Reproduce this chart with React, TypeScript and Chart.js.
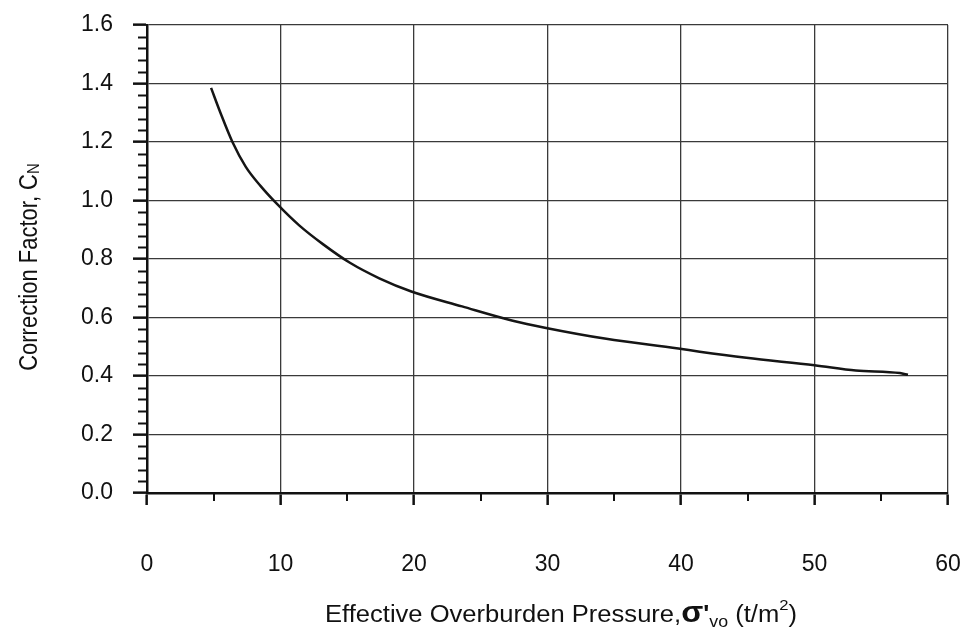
import React, { useEffect, useRef } from "react";
import { Chart, registerables } from "chart.js";

Chart.register(...registerables);

// Effective overburden pressure (t/m2)
const pressure = [4.8, 5.5, 6.4, 7.4, 8.5, 9.7, 11.4, 13.2, 15.2, 17.4, 19.8, 23.6, 27.4, 29.8, 34.4, 39.8, 41.4, 44.9, 50.0, 53.1, 56.4, 57.0];
// Correction factor C_N
const correctionFactor = [1.385, 1.3, 1.2, 1.115, 1.05, 0.99, 0.915, 0.85, 0.787, 0.734, 0.689, 0.638, 0.589, 0.565, 0.527, 0.494, 0.483, 0.462, 0.437, 0.419, 0.41, 0.404];

const xTickValues = [0, 10, 20, 30, 40, 50, 60];
const xMinorTicks = [5, 15, 25, 35, 45, 55];
const yTickValues = [0, 0.2, 0.4, 0.6, 0.8, 1.0, 1.2, 1.4, 1.6];
const yMinorStep = 0.04;

const FONT = '"Liberation Sans", Arial, Helvetica, sans-serif';

type Seg = { text: string; font: string; dy: number };

function drawSegs(
  ctx: CanvasRenderingContext2D,
  segs: Seg[],
  cx: number,
  baseY: number,
  targetWidth: number | null,
  yStretch: number
) {
  let total = 0;
  const widths: number[] = [];
  for (const s of segs) {
    ctx.font = s.font;
    const w = ctx.measureText(s.text).width;
    widths.push(w);
    total += w;
  }
  const sx = targetWidth ? targetWidth / total : 1;
  ctx.save();
  ctx.translate(cx, baseY);
  ctx.scale(sx, yStretch);
  let x = -total / 2;
  ctx.textAlign = "left";
  ctx.textBaseline = "alphabetic";
  segs.forEach((s, i) => {
    ctx.font = s.font;
    ctx.fillText(s.text, x, s.dy);
    x += widths[i];
  });
  ctx.restore();
}

const decorPlugin = {
  id: "decor",
  afterDraw(chart: any) {
    const ctx: CanvasRenderingContext2D = chart.ctx;
    const xs = chart.scales.x;
    const ys = chart.scales.y;
    const area = chart.chartArea;
    ctx.save();
    ctx.strokeStyle = "#111";
    ctx.lineWidth = 2;
    // x minor ticks
    for (const v of xMinorTicks) {
      const px = Math.round(xs.getPixelForValue(v));
      ctx.beginPath();
      ctx.moveTo(px, area.bottom);
      ctx.lineTo(px, area.bottom + 8);
      ctx.stroke();
    }
    // y minor ticks
    const n = Math.round(1.6 / yMinorStep);
    for (let i = 0; i <= n; i++) {
      if (i % 5 === 0) continue;
      const py = Math.round(ys.getPixelForValue(i * yMinorStep)) + 0.5;
      ctx.beginPath();
      ctx.moveTo(area.left - 9, py);
      ctx.lineTo(area.left, py);
      ctx.stroke();
    }
    ctx.fillStyle = "#111";
    // x title
    drawSegs(
      ctx,
      [
        { text: "Effective Overburden Pressure,", font: `23px ${FONT}`, dy: 0 },
        { text: "σ", font: `bold 29px ${FONT}`, dy: 0 },
        { text: "'", font: `bold 23px ${FONT}`, dy: 0 },
        { text: "vo", font: `16px ${FONT}`, dy: 5 },
        { text: " (t/m", font: `23px ${FONT}`, dy: 0 },
        { text: "2", font: `15px ${FONT}`, dy: -12 },
        { text: ")", font: `23px ${FONT}`, dy: 0 },
      ],
      561,
      622,
      472,
      1
    );
    // y title
    ctx.translate(37, 267);
    ctx.rotate(-Math.PI / 2);
    drawSegs(
      ctx,
      [
        { text: "Correction Factor, C", font: `22px ${FONT}`, dy: 0 },
        { text: "N", font: `15px ${FONT}`, dy: 2 },
      ],
      0,
      0,
      null,
      1.15
    );
    ctx.restore();
  },
};

export default function App() {
  const ref = useRef<HTMLCanvasElement | null>(null);
  useEffect(() => {
    document.body.style.margin = "0";
    const canvas = ref.current;
    if (!canvas) return;
    const chart = new Chart(canvas, {
      type: "scatter",
      data: {
        datasets: [
          {
            data: pressure.map((p, i) => ({ x: p, y: correctionFactor[i] })),
            showLine: true,
            borderColor: "#151515",
            borderWidth: 2.5,
            pointRadius: 0,
            cubicInterpolationMode: "monotone",
            fill: false,
          },
        ],
      },
      options: {
        responsive: false,
        animation: false,
        devicePixelRatio: 1,
        layout: { padding: { top: 25, right: 18, left: 0, bottom: 0 } },
        plugins: { legend: { display: false }, tooltip: { enabled: false } },
        scales: {
          x: {
            type: "linear",
            min: 0,
            max: 60,
            afterBuildTicks: (s: any) => {
              s.ticks = xTickValues.map((v) => ({ value: v }));
            },
            afterFit: (s: any) => {
              s.height = 142;
              s.paddingLeft = 0;
              s.paddingRight = 0;
            },
            ticks: {
              font: { family: FONT, size: 23 },
              color: "#111",
              padding: 46,
              maxRotation: 0,
              callback: (v: any) => String(v),
            },
            grid: {
              color: "#3a3a3a",
              lineWidth: 1.3,
              tickLength: 12,
              tickColor: "#111",
              tickWidth: 2.5,
            },
            border: { color: "#111", width: 2.5 },
          },
          y: {
            type: "linear",
            min: 0,
            max: 1.6,
            afterBuildTicks: (s: any) => {
              s.ticks = yTickValues.map((v) => ({ value: v }));
            },
            afterFit: (s: any) => {
              s.width = 147;
              s.paddingTop = 0;
              s.paddingBottom = 0;
            },
            ticks: {
              font: { family: FONT, size: 23 },
              color: "#111",
              padding: 20,
              callback: (v: any) => Number(v).toFixed(1),
            },
            grid: {
              color: "#3a3a3a",
              lineWidth: 1.3,
              tickLength: 14,
              tickColor: "#111",
              tickWidth: 2.5,
            },
            border: { color: "#111", width: 2.5 },
          },
        },
      },
      plugins: [decorPlugin],
    } as any);
    return () => chart.destroy();
  }, []);
  return (
    <div style={{ width: 966, height: 635, background: "#fff" }}>
      <canvas ref={ref} width={966} height={635} style={{ display: "block" }} />
    </div>
  );
}
